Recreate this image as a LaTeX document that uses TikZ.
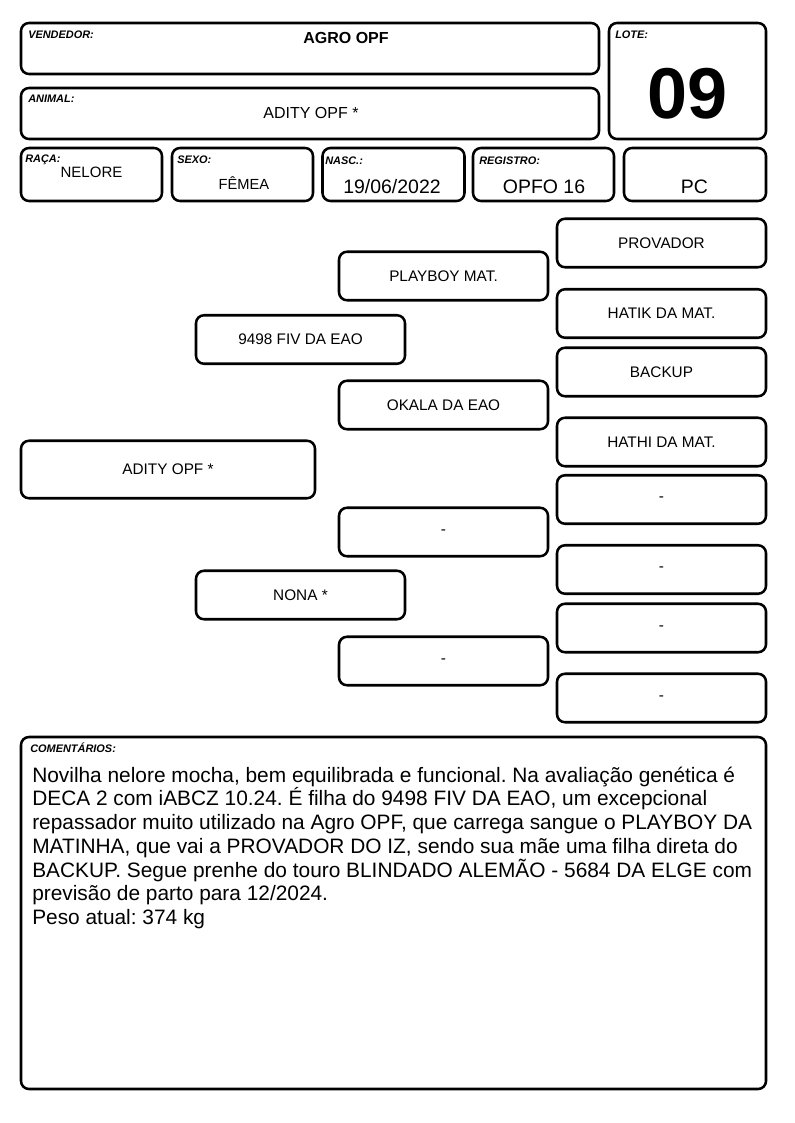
\documentclass[tikz,border=0pt]{standalone}
\usepackage{fontspec}
\setmainfont{Liberation Sans}
\frenchspacing
\tikzset{
  box/.style={draw=black, line width=1.9pt, rounded corners=6pt, inner sep=0pt, fill=white},
  wh/.style 2 args={minimum width=#1*0.75pt, minimum height=#2*0.75pt},
  pbox/.style={box, font=\fontsize{11.5}{13}\selectfont, wh={209}{48.5}},
  lbl/.style={inner sep=0pt, anchor=base west, font=\fontsize{8.2}{9.8}\selectfont\bfseries\itshape},
  val/.style={inner sep=0pt, anchor=base}
}
\begin{document}
\frenchspacing
\begin{tikzpicture}[x=0.75pt,y=-0.75pt]
\fill[white] (0,0) rectangle (794,1123);
\useasboundingbox (0,0) rectangle (794,1123);

% ---------- header ----------
\node[box, wh={578}{51}] (vend) at (310,48.5) {};
\node[lbl] (vendl) at (28,38.5) {VENDEDOR:};
\node[val, font=\fontsize{12}{14}\selectfont\bfseries] (vendv) at (346,43.5) {AGRO OPF};

\node[box, wh={578}{51}] (anim) at (310,113.5) {};
\node[lbl] (animl) at (28,102.5) {ANIMAL:};
\node[val, font=\fontsize{12}{14}\selectfont] (animv) at (311,119) {ADITY OPF *};

\node[box, wh={157}{116}] (lote) at (687.5,81) {};
\node[lbl] (lotel) at (615,39) {LOTE:};
\node[val, font=\fontsize{54}{58}\selectfont\bfseries] (lotev) at (687.5,119) {09};

\node[box, wh={141}{53}] (raca) at (91.5,174.5) {};
\node[lbl] (racal) at (25,163) {RAÇA:};
\node[val, font=\fontsize{11.25}{13}\selectfont] (racav) at (91.5,178) {NELORE};

\node[box, wh={141}{53}] (sexo) at (242.5,174.5) {};
\node[lbl] (sexol) at (177,164) {SEXO:};
\node[val, font=\fontsize{11}{13}\selectfont] (sexov) at (244,190) {FÊMEA};

\node[box, wh={142}{53}] (nasc) at (393.5,174.5) {};
\node[lbl] (nascl) at (325,165) {NASC.:};
\node[val, font=\fontsize{14.6}{17}\selectfont] (nascv) at (392,193.3) {19/06/2022};

\node[box, wh={141}{53}] (regi) at (543.5,174.5) {};
\node[lbl] (regil) at (479,165) {REGISTRO:};
\node[val, font=\fontsize{14.6}{17}\selectfont] (regiv) at (544,193.3) {OPFO 16};

\node[box, wh={142}{53}] (pc) at (695,174.5) {};
\node[val, font=\fontsize{14.6}{17}\selectfont] (pcv) at (694.5,193.3) {PC};

% ---------- pedigree ----------
\node[pbox, wh={294}{57.5}] (animal) at (168,469.5) {ADITY OPF *};

\node[pbox] (pai) at (300.5,339.5) {9498 FIV DA EAO};
\node[pbox] (mae) at (300.5,595) {NONA *};

\node[pbox] (avop) at (443.5,276) {PLAYBOY MAT.};
\node[pbox] (avap) at (443.5,405) {OKALA DA EAO};
\node[pbox] (avom) at (443.5,532) {-};
\node[pbox] (avam) at (443.5,661) {-};

\node[pbox] (b1) at (661.5,243) {PROVADOR};
\node[pbox] (b2) at (661.5,313.5) {HATIK DA MAT.};
\node[pbox] (b3) at (661.5,372) {BACKUP};
\node[pbox] (b4) at (661.5,442) {HATHI DA MAT.};
\node[pbox] (b5) at (661.5,499.5) {-};
\node[pbox] (b6) at (661.5,569.5) {-};
\node[pbox] (b7) at (661.5,628) {-};
\node[pbox] (b8) at (661.5,698) {-};

% ---------- comments ----------
\node[box, wh={745}{352}] (coment) at (393.5,913) {};
\node[lbl] (comentl) at (30,752) {COMENTÁRIOS:};
\node[inner sep=0pt, anchor=north west, align=left,
      font=\fontsize{15.65}{17.8}\selectfont\frenchspacing] (comentv) at (32,766.5) {%
Novilha nelore mocha, bem equilibrada e funcional. Na avaliação genética é\\
DECA 2 com iABCZ 10.24. É filha do 9498 FIV DA EAO, um excepcional\\
repassador muito utilizado na Agro OPF, que carrega sangue o PLAYBOY DA\\
MATINHA, que vai a PROVADOR DO IZ, sendo sua mãe uma filha direta do\\
BACKUP. Segue prenhe do touro BLINDADO ALEMÃO - 5684 DA ELGE com\\
previsão de parto para 12/2024.\\
Peso atual: 374 kg};
\end{tikzpicture}
\end{document}
